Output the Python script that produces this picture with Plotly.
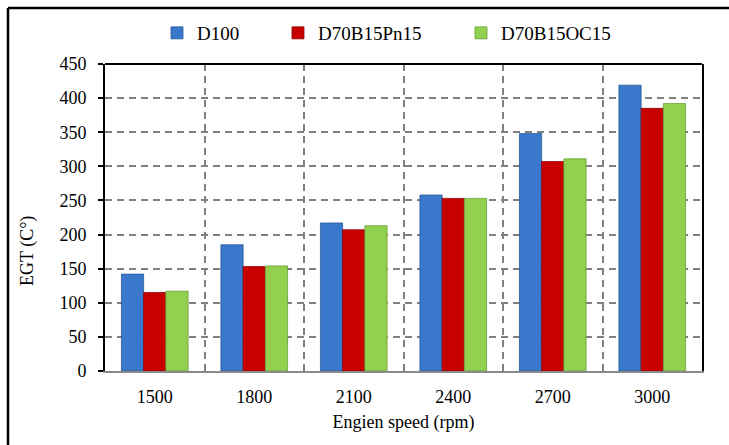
import plotly.graph_objects as go

# ---- data ----
speeds = ["1500", "1800", "2100", "2400", "2700", "3000"]
d100 = [142, 185, 217, 258, 348, 419]
d70b15pn15 = [115, 153, 207, 253, 307, 385]
d70b15oc15 = [117, 154, 213, 253, 311, 392]
series_names = ["D100", "D70B15Pn15", "D70B15OC15"]
y_ticks = [0, 50, 100, 150, 200, 250, 300, 350, 400, 450]

# ---- geometry ----
W, H = 729, 445
L, R, T, B = 105, 27, 64, 74
pw, ph = W - L - R, H - T - B


def px(x):
    return (x - L) / pw


def py(y):
    return (H - B - y) / ph


FONT = "Liberation Serif, Times New Roman, serif"
colors = ["#3A78CC", "#C80000", "#92D050"]
edges = ["#2A5A9A", "#8E0000", "#6A9E38"]
legend_widths = [76, 138, 125]

fig = go.Figure()
for name, vals, c, e, lw in zip(series_names, [d100, d70b15pn15, d70b15oc15],
                                colors, edges, legend_widths):
    fig.add_trace(go.Bar(
        x=speeds, y=vals, name=name,
        marker=dict(color=c, line=dict(color=e, width=0.8)),
        legendwidth=lw,
    ))

fig.update_layout(
    width=W, height=H,
    margin=dict(l=L, r=R, t=T, b=B, pad=0),
    paper_bgcolor="white", plot_bgcolor="white",
    barmode="group", bargap=0.33, bargroupgap=0,
    font=dict(family=FONT, size=18, color="black"),
    showlegend=True,
    legend=dict(orientation="h", x=px(157), xanchor="left",
                y=py(33), yanchor="middle",
                font=dict(family=FONT, size=19, color="black"),
                bgcolor="rgba(0,0,0,0)"),
    xaxis=dict(
        type="category", tickson="boundaries", ticks="",
        showgrid=True, gridcolor="#808080", gridwidth=1.5, griddash="7px,5px",
        showline=True, linecolor="#8a8a8a", linewidth=2,
        tickfont=dict(family=FONT, size=18, color="black"),
        ticklabelstandoff=8,
        title=dict(text="Engien speed (rpm)", standoff=10,
                   font=dict(family=FONT, size=18, color="black")),
    ),
    yaxis=dict(
        range=[0, 450], tickvals=y_ticks,
        ticks="outside", ticklen=5, tickwidth=1.5, tickcolor="black",
        showgrid=True, gridcolor="#808080", gridwidth=1.5, griddash="7px,5px",
        showline=True, linecolor="black", linewidth=2, mirror=True,
        zeroline=False,
        tickfont=dict(family=FONT, size=18, color="black"),
        ticklabelstandoff=8,
    ),
    shapes=[
        # top border of plot area
        dict(type="line", xref="paper", yref="paper", x0=0, x1=1, y0=1, y1=1,
             line=dict(color="black", width=2)),
        # outer frame: top and left edges visible in the crop
        dict(type="line", xref="paper", yref="paper", x0=px(8), x1=px(W + 5),
             y0=py(8), y1=py(8), line=dict(color="black", width=2.5)),
        dict(type="line", xref="paper", yref="paper", x0=px(8), x1=px(8),
             y0=py(8), y1=py(H + 5), line=dict(color="black", width=2.5)),
    ],
    annotations=[
        dict(text="EGT (C\u00b0)", textangle=-90, xref="paper", yref="paper",
             x=px(27), y=py(251), xanchor="center", yanchor="middle",
             showarrow=False, font=dict(family=FONT, size=18, color="black")),
        dict(text="(a)", xref="paper", yref="paper", x=px(372), y=py(3),
             xanchor="center", yanchor="bottom", showarrow=False,
             font=dict(family=FONT, size=19, color="black")),
    ],
)

fig.write_html("out.html")
